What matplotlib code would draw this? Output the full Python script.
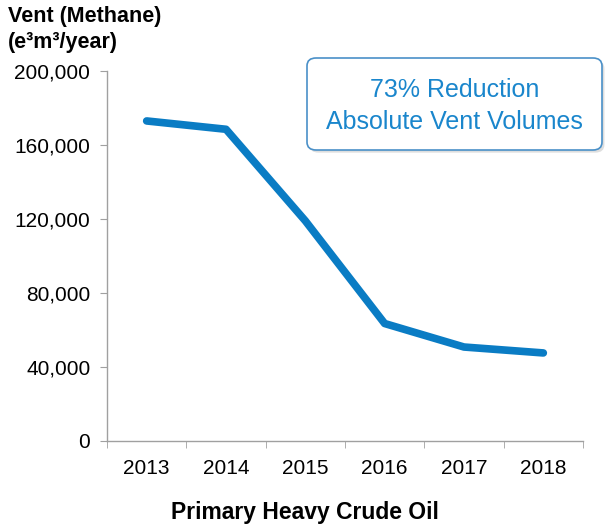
import matplotlib
matplotlib.use("Agg")
import matplotlib.pyplot as plt
from matplotlib.patches import FancyBboxPatch

plt.rcParams['font.family'] = ['Liberation Sans', 'DejaVu Sans']

years = ['2013', '2014', '2015', '2016', '2017', '2018']
vent = [173000, 168500, 119000, 63500, 50800, 47600]
yticks = [0, 40000, 80000, 120000, 160000, 200000]

blue = '#0a7cc4'
grey = '#a0a0a0'

fig = plt.figure(figsize=(6.05, 5.26), dpi=100)
ax = fig.add_axes([107 / 605, 1 - 441 / 526, 476 / 605, 370 / 526])

x = list(range(len(years)))
ax.plot(x, vent, color=blue, lw=5.5, solid_capstyle='round', solid_joinstyle='round')

ax.set_xlim(-0.5, len(years) - 0.5)
ax.set_ylim(0, 200000)
ax.set_yticks(yticks)
ax.set_yticklabels([f'{v:,}' for v in yticks])
ax.set_xticks(x)
ax.set_xticklabels(years)
ax.set_xticks([i - 0.5 for i in range(len(years) + 1)], minor=True)
ax.tick_params(axis='x', which='major', length=0, pad=13, labelsize=15)
ax.tick_params(axis='x', which='minor', length=5, color=grey, direction='out')
ax.tick_params(axis='y', length=5, color=grey, labelsize=15, pad=7)

for s in ['top', 'right']:
    ax.spines[s].set_visible(False)
for s in ['left', 'bottom']:
    ax.spines[s].set_color(grey)
    ax.spines[s].set_linewidth(1.0)

fig.text(8 / 605, 1 - 6 / 526, 'Vent (Methane)\n(e³m³/year)', ha='left', va='top',
         fontsize=15.5, fontweight='bold', linespacing=1.3)
fig.text(305 / 605, 1 - 513 / 526, 'Primary Heavy Crude Oil', ha='center', va='center',
         fontsize=16.5, fontweight='bold')

# annotation box with soft shadow
bx, by, bw, bh = 307 / 605, 1 - 150 / 526, 295 / 605, 92 / 526
shadow = FancyBboxPatch((bx + 0.004, by - 0.005), bw, bh, boxstyle='round,pad=0,rounding_size=0.015',
                        transform=fig.transFigure, facecolor='#c8c8c8', edgecolor='none', alpha=0.6)
box = FancyBboxPatch((bx, by), bw, bh, boxstyle='round,pad=0,rounding_size=0.015',
                     transform=fig.transFigure, facecolor='white', edgecolor='#4a90c8', linewidth=1.2)
fig.patches.extend([shadow, box])
fig.text(bx + bw / 2, by + bh / 2 - 0.004, '73% Reduction\nAbsolute Vent Volumes', ha='center', va='center',
         fontsize=18, color='#1a86cc', linespacing=1.4)

fig.savefig('out.png', dpi=100)
